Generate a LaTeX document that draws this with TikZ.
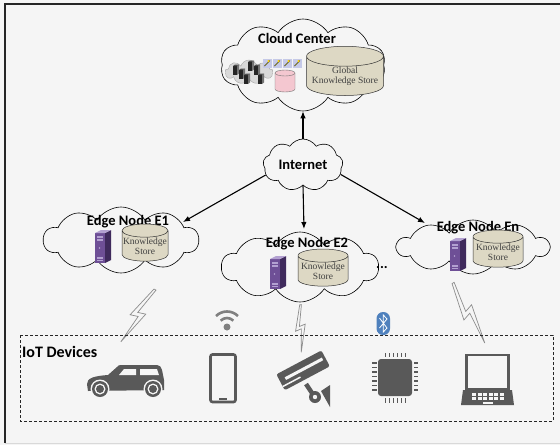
\documentclass[tikz,border=0pt]{standalone}
\usepackage{fontspec}
\setmainfont{Carlito}
\newfontfamily\storefont{Liberation Serif}
\usetikzlibrary{shapes.symbols, shapes.geometric, arrows.meta}

\begin{document}
\begin{tikzpicture}[x=1pt, y=-1pt,
    cloudshape/.style={cloud, cloud puffs=10, cloud puff arc=115, cloud ignores aspect,
        draw=black, line width=0.6pt, fill=paper, inner sep=0pt},
    title/.style={font=\fontsize{14.5}{16}\selectfont\bfseries, inner sep=0pt},
    store/.style={cylinder, shape border rotate=90, aspect=0.3, draw=black!80,
        line width=0.5pt, fill=storeTan, align=center, text=storeText,
        font=\storefont\fontsize{9.5}{10.5}\selectfont, inner sep=0pt},
    link/.style={line width=1.1pt, -{Latex[length=7pt, width=5.5pt]}},
    bolt/.pic={
        \draw[boltGray, line width=0.7pt, fill=paper, line join=miter]
            (2,0) -- (-6,30) -- (1,28) -- (-2,55) -- (6,23) -- (-1,25) -- (4,0) -- cycle;
    },
    server/.pic={
        \fill[serverMid] (-8,-13) rectangle (2,17);
        \fill[serverDark] (2,-13) -- (8,-16) -- (8,14) -- (2,17) -- cycle;
        \fill[serverLight] (-8,-13) -- (-2,-16) -- (8,-16) -- (2,-13) -- cycle;
        \fill[serverLight] (-6,-10) rectangle (0,-8.5);
        \fill[serverLight] (-6,-7) rectangle (0,-5.5);
        \fill[serverLight] (-3.5,2) circle (0.9);
        \fill[serverLight] (-6,11) rectangle (0,12.5);
        \fill[serverLight] (-6,13.5) rectangle (0,15);
    },
    rack/.pic={
        \fill[black!85] (-2,-4) rectangle (2,5);
        \fill[black!55] (2,-4) -- (4,-5.5) -- (4,3.5) -- (2,5) -- cycle;
        \fill[black!70] (-2,-4) -- (0,-5.5) -- (4,-5.5) -- (2,-4) -- cycle;
    }
]
    % Colours
    \definecolor{paper}{HTML}{F5F5F5}
    \definecolor{frameColour}{HTML}{262626}
    \definecolor{iconGray}{HTML}{595959}
    \definecolor{boltGray}{HTML}{8C8C8C}
    \definecolor{wifiGray}{HTML}{808080}
    \definecolor{btBlue}{HTML}{4F81BD}
    \definecolor{storeTan}{HTML}{DDD8C4}
    \definecolor{storeText}{HTML}{404040}
    \definecolor{serverMid}{HTML}{6E4F96}
    \definecolor{serverDark}{HTML}{3F2A5C}
    \definecolor{serverLight}{HTML}{B3A1D1}
    \definecolor{pinkStore}{HTML}{F4C7D0}
    \definecolor{tileBlue}{HTML}{C5C9E8}

    % Page and frame
    \useasboundingbox (0,0) rectangle (560,445);
    \fill[paper] (0,0) rectangle (560,445);
    \draw[black!15, line width=0.8pt] (5,443) -- (560,443);
    \draw[frameColour, line width=1.2pt] (5,443) -- (5,4) -- (560,4);

    % Clouds
    \node[cloudshape, minimum width=165, minimum height=92] (cc) at (303,65) {};
    \node[cloudshape, cloud puffs=9, minimum width=80, minimum height=52] (inet) at (303,165) {};
    \node[cloudshape, minimum width=155, minimum height=66] (e1) at (121,240) {};
    \node[cloudshape, minimum width=157, minimum height=70] (e2) at (300,267) {};
    \node[cloudshape, minimum width=152, minimum height=54] (en) at (473,247) {};

    % Cloud center content
    \node[title] (ccLabel) at (297,38) {Cloud Center};
    \node[cloud, cloud puffs=9, cloud ignores aspect, fill=black!15, draw=black!35,
        line width=0.4pt, minimum width=48, minimum height=24, inner sep=0pt] (farm) at (249,72) {};
    \foreach \sx/\sy in {235/70, 241/74, 250/66, 256/70, 246/79, 260/79}
        \pic at (\sx,\sy) {rack};
    \foreach \tx in {263,273,283,293} {
        \fill[tileBlue] (\tx,59) rectangle (\tx+8.5,67.5);
        \draw[olive!70!black, line width=0.8pt] (\tx+1.5,66) -- (\tx+7,60.5);
        \fill[yellow!70!orange] (\tx+5.5,61) circle (1.2);
    }
    % small cache cylinder
    \filldraw[fill=pinkStore, draw=black!55, line width=0.4pt]
        (275,73) -- (275,89) arc[start angle=180, end angle=0, x radius=10, y radius=3]
        -- (295,73) arc[start angle=0, end angle=-180, x radius=10, y radius=3] -- cycle;
    \draw[black!55, line width=0.4pt] (275,73) arc[start angle=180, end angle=0, x radius=10, y radius=3];
    \node[store, minimum width=77, minimum height=40] (gks) at (345,76) {Global\\Knowledge Store};

    % Internet
    \node[title] (inetLabel) at (303,165) {Internet};

    % Edge nodes
    \node[title] (e1Label) at (128,222) {Edge Node E1};
    \pic at (103,246) {server};
    \node[store, minimum width=46, minimum height=33] (ks1) at (145,246) {Knowledge\\Store};

    \node[title] (e2Label) at (307,244) {Edge Node E2};
    \pic at (278,272) {server};
    \node[store, minimum width=50, minimum height=34] (ks2) at (323,271) {Knowledge\\Store};

    \node[title] (enLabel) at (478,228) {Edge Node En};
    \pic at (458,254) {server};
    \node[store, minimum width=50, minimum height=32] (ksn) at (498,252) {Knowledge\\Store};

    \node[title] (dots) at (382,268) {...};

    % Links
    \draw[link] (inet.north) -- (cc.south);
    \draw[link] (inet.195) -- (183,222);
    \draw[link] (inet.south) -- (304,229);
    \draw[link] (inet.346) -- (425,223);

    % Wireless bolts
    \pic[rotate=-28, scale=1.13] at (152,288) {bolt};
    \pic[rotate=6, scale=0.86] at (298,305) {bolt};
    \pic[rotate=33, scale=1.23] at (450,285) {bolt};

    % Wifi symbol
    \fill[wifiGray] (227,327) circle (3.5);
    \draw[wifiGray, line width=2.6pt] (227,327) ++(-45:9) arc[start angle=-45, end angle=-135, radius=9];
    \draw[wifiGray, line width=2.6pt] (227,327) ++(-45:15.5) arc[start angle=-45, end angle=-135, radius=15.5];

    % Bluetooth symbol
    \fill[btBlue, rounded corners=6.5pt] (376.5,312) rectangle (390,335);
    \draw[white, line width=0.8pt, line join=miter] (379.5,318) -- (387,328) -- (383.3,332) -- (383.3,315) -- (387,319) -- (379.5,328);

    % IoT devices group
    \draw[black!85, line width=0.7pt, dash pattern=on 3pt off 2pt] (20,335) rectangle (553,421);
    \node[title, font=\fontsize{16}{18}\selectfont\bfseries, anchor=west] (iotLabel) at (22,352) {IoT Devices};

    % Car
    \fill[iconGray] (88,391) -- (87,384) .. controls (87,378) and (94,376) .. (108,375)
        -- (117,367) .. controls (118,365.5) and (119,365) .. (121,365) -- (157,365)
        .. controls (160,365) and (161,367) .. (162,370) -- (164,380) -- (164,390) -- cycle;
    \fill[paper] (119,375) -- (124,369) -- (136,369) -- (136,375) -- cycle;
    \fill[paper] (140,369) -- (157,369) -- (159,375) -- (140,375) -- cycle;
    \foreach \wx in {100,153} {
        \fill[paper] (\wx,389) circle (9.5);
        \fill[iconGray] (\wx,389) circle (8);
        \fill[paper] (\wx,389) circle (5.5);
        \fill[iconGray] (\wx,389) circle (4);
    }

    % Phone
    \draw[iconGray, line width=2.6pt, rounded corners=2pt] (210.5,354.5) rectangle (235.5,402);
    \fill[iconGray] (219,397.5) rectangle (227,400);

    % Camera
    \begin{scope}[shift={(304,371)}, rotate=28]
        \fill[iconGray, rounded corners=2pt] (-26,-10) rectangle (25,8);
        \fill[paper] (-20,-3.5) rectangle (22,-0.5);
        \fill[paper] (-26,3) rectangle (-6,4.5);
    \end{scope}
    \draw[iconGray, line width=4.5pt] (306,384) -- (314,396);
    \fill[iconGray] (315,397) circle (6);
    \fill[paper] (315,397) circle (2.2);
    \fill[iconGray] (321,391) -- (330,385) -- (330,407) -- cycle;

    % Chip
    \fill[iconGray, rounded corners=3pt] (378,359) rectangle (412,396);
    \foreach \py in {362,366.5,...,393} {
        \fill[iconGray] (372,\py) rectangle (376.5,\py+1.5);
        \fill[iconGray] (413.5,\py) rectangle (418,\py+1.5);
    }
    \foreach \px in {384.5,388.5,...,405} {
        \fill[iconGray] (\px,398) rectangle (\px+1.5,402.5);
        \fill[iconGray] (\px,352.5) rectangle (\px+1.5,357);
    }

    % Laptop
    \draw[iconGray, line width=2.6pt] (466.5,355) rectangle (508.5,389);
    \fill[iconGray] (463,390) -- (512,390) -- (514,405) -- (461,405) -- cycle;
    \foreach \kx in {0,...,5}
        \foreach \ky in {0,1} {
            \fill[paper] (472+\kx*5.5,392.5+\ky*4.5) rectangle (476+\kx*5.5,395.5+\ky*4.5);
        }
    \fill[paper] (483,402) rectangle (493,404);

\end{tikzpicture}
\end{document}
